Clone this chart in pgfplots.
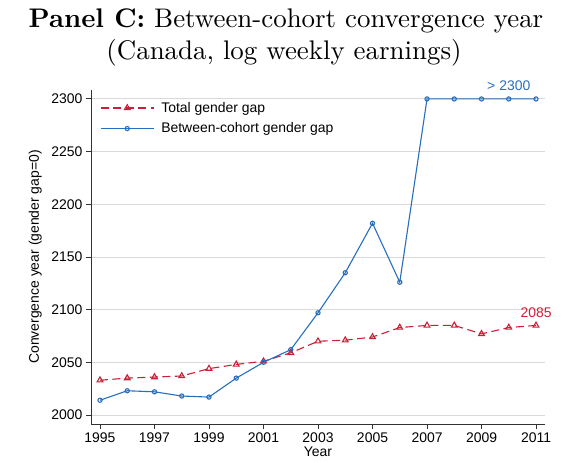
\documentclass[border=0pt]{standalone}
\usepackage{fontspec}
\usepackage{pgfplots}
\pgfplotsset{compat=1.18}
\newfontfamily\arial{Liberation Sans}
\newfontfamily\cmten{lmroman10-regular.otf}[BoldFont=lmroman10-bold.otf]
\definecolor{cred}{RGB}{200,32,56}
\definecolor{cblue}{RGB}{40,110,190}
\definecolor{axgray}{RGB}{50,50,50}
\newcommand{\af}{\arial\fontsize{14}{16.5}\selectfont}
\begin{document}
\begin{tikzpicture}[x=1bp,y=1bp]
\path[use as bounding box] (0,0) rectangle (565,463);
\node[anchor=base, inner sep=0pt, font=\cmten\fontsize{27}{32}\selectfont] at (286,435.7) {\textbf{Panel C:} Between-cohort convergence year};
\node[anchor=base, inner sep=0pt, font=\cmten\fontsize{27}{32}\selectfont] at (284,403) {(Canada, log weekly earnings)};
\begin{axis}[at={(91bp,39bp)}, anchor=south west, scale only axis,
  width=454bp, height=334bp,
  xmin=1994.67, xmax=2011.33, ymin=1991.45, ymax=2308.5,
  axis x line*=bottom, axis y line*=left,
  axis line style={-, axgray, line width=0.9bp},
  xtick={1995,1997,...,2011}, ytick={2000,2050,...,2300},
  minor tick num=0,
  tick align=outside, major tick length=5bp,
  tick style={axgray, line width=0.9bp},
  ymajorgrids, grid style={black!15, line width=0.9bp},
  /pgf/number format/assume math mode=true,
  /pgf/number format/1000 sep={},
  tick label style={font=\af},
  xlabel={Year}, ylabel={Convergence year (gender gap=0)},
  label style={font=\af},
  xlabel style={at={(axis description cs:0.5,-0.084)}, anchor=center},
  ylabel style={at={(axis description cs:-0.123,0.5)}, anchor=center, rotate=0},
  legend style={at={(0,1)}, anchor=north west, draw=none, fill=none, font=\af,
    xshift=6bp, yshift=-8bp, row sep=5bp},
  legend cell align=left,
  legend image code/.code={\draw[mark repeat=2,mark phase=2] plot coordinates {(0bp,0bp)(26.5bp,0bp)(53bp,0bp)};
    \path (58bp,0bp);},
  clip=false]
\addplot[cred, line width=1.1bp, dash pattern=on 8bp off 4.5bp, mark=triangle, mark size=3.3bp, mark options={solid, line width=1.1bp}]
  coordinates {(1995,2033)(1996,2035)(1997,2036)(1998,2037)(1999,2044)(2000,2048)(2001,2051)(2002,2059)(2003,2070)(2004,2071)(2005,2074)(2006,2083)(2007,2085)(2008,2085)(2009,2077)(2010,2083)(2011,2085)};
\addlegendentry{Total gender gap}
\addplot[cblue, line width=1.1bp, mark=o, mark size=2.1bp, mark options={solid, line width=1.1bp}]
  coordinates {(1995,2014)(1996,2023)(1997,2022)(1998,2018)(1999,2017)(2000,2035)(2001,2050)(2002,2062)(2003,2097)(2004,2135)(2005,2182)(2006,2126)(2007,2300)(2008,2300)(2009,2300)(2010,2300)(2011,2300)};
\addlegendentry{Between-cohort gender gap}
\node[text=cblue, font=\af] at (axis cs:2010,2313) {> 2300};
\node[text=cred, font=\af] at (axis cs:2011,2097) {2085};
\end{axis}
\end{tikzpicture}
\end{document}
